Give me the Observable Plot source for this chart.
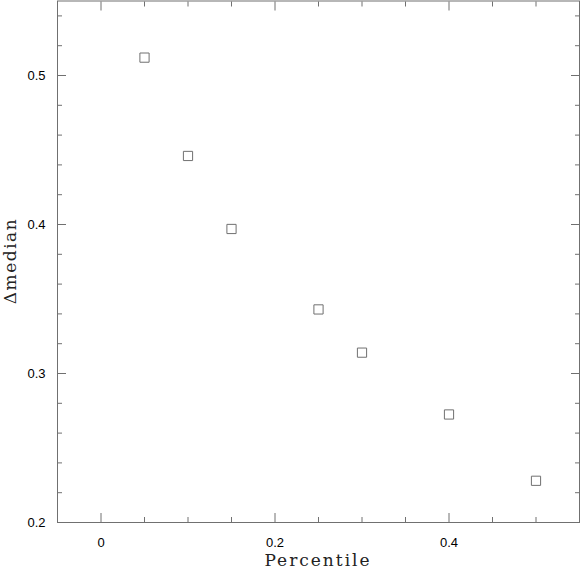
<!DOCTYPE html>
<html><head><meta charset="utf-8">
<script src="https://cdn.jsdelivr.net/npm/d3@7"></script>
<script src="https://cdn.jsdelivr.net/npm/@observablehq/plot@0.6"></script>
<style>body{margin:0;background:#fff}</style>
</head><body><div id="chart"></div>
<script>
const percentile = [0.05, 0.10, 0.15, 0.25, 0.30, 0.40, 0.50];
const deltaMedian = [0.512, 0.446, 0.397, 0.343, 0.314, 0.2725, 0.228];
const xMajor = [0, 0.2, 0.4];
const xMinor = [-0.05, 0.05, 0.1, 0.15, 0.25, 0.3, 0.35, 0.45, 0.5, 0.55];
const yMajor = [0.2, 0.3, 0.4, 0.5];
const yMinor = [0.22, 0.24, 0.26, 0.28, 0.32, 0.34, 0.36, 0.38, 0.42, 0.44, 0.46, 0.48, 0.52, 0.54];
const data = percentile.map((p, i) => ({p, d: deltaMedian[i]}));
const grey = "#707070";
const fmt = d => d === 0 ? "0" : String(d);

const chart = Plot.plot({
  width: 580, height: 570,
  marginLeft: 57, marginRight: 1, marginTop: 0.5, marginBottom: 48,
  x: {domain: [-0.05, 0.55]},
  y: {domain: [0.2, 0.55]},
  style: {fontFamily: "'Liberation Sans', Arial, sans-serif", fontSize: "13px", color: "#000", background: "#fff"},
  marks: [
    Plot.frame({stroke: grey, strokeWidth: 1}),
    Plot.axisX({anchor: "bottom", ticks: xMajor, tickSize: -9, text: null, label: null, stroke: grey}),
    Plot.axisX({anchor: "bottom", ticks: xMinor, tickSize: -5, text: null, label: null, stroke: grey}),
    Plot.axisX({anchor: "top", ticks: xMajor, tickSize: -9, text: null, label: null, stroke: grey}),
    Plot.axisX({anchor: "top", ticks: xMinor, tickSize: -5, text: null, label: null, stroke: grey}),
    Plot.axisY({anchor: "left", ticks: yMajor, tickSize: -9, text: null, label: null, stroke: grey}),
    Plot.axisY({anchor: "left", ticks: yMinor, tickSize: -5, text: null, label: null, stroke: grey}),
    Plot.axisY({anchor: "right", ticks: yMajor, tickSize: -9, text: null, label: null, stroke: grey}),
    Plot.axisY({anchor: "right", ticks: yMinor, tickSize: -5, text: null, label: null, stroke: grey}),
    Plot.axisX({anchor: "bottom", ticks: xMajor, tickSize: 0, tickPadding: 15, tickFormat: fmt, label: null, fill: "#000"}),
    Plot.axisY({anchor: "left", ticks: yMajor, tickSize: 0, tickPadding: 12, tickFormat: fmt, label: null, fill: "#000"}),
    Plot.dot(data, {x: "p", y: "d", symbol: "square", r: 5.2, stroke: grey, strokeWidth: 1, fill: "none"})
  ]
});
const svg = d3.select(chart);
svg.append("text").attr("x", 318).attr("y", 566).attr("text-anchor", "middle")
  .attr("font-family", "'DejaVu Serif', serif").attr("font-size", 17).attr("letter-spacing", "2px")
  .attr("fill", "#222").text("Percentile");
svg.append("text").attr("transform", "translate(16,261) rotate(-90)").attr("text-anchor", "middle")
  .attr("font-family", "'DejaVu Serif', serif").attr("font-size", 17).attr("letter-spacing", "1.5px")
  .attr("fill", "#222").text("Δmedian");
document.getElementById("chart").appendChild(chart);
</script></body></html>
